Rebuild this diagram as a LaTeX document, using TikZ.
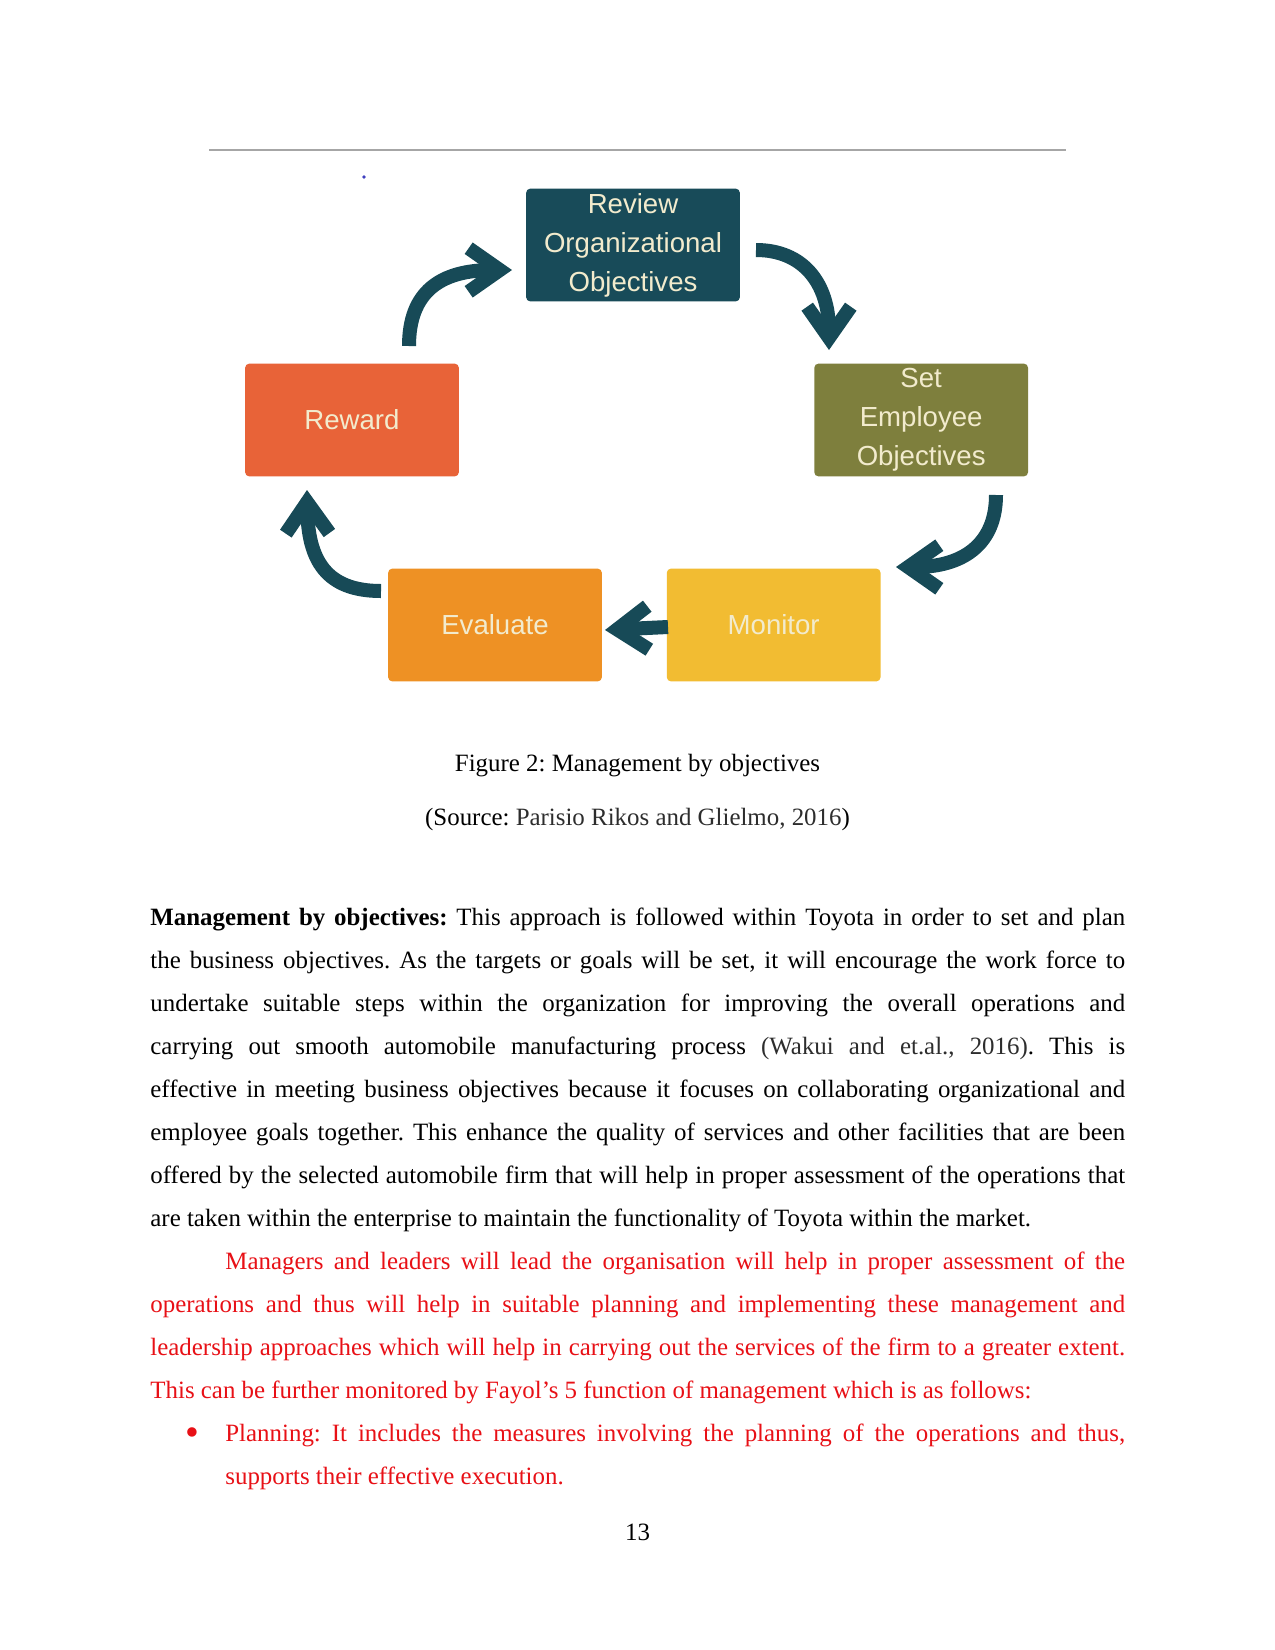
\documentclass[tikz,border=0pt]{standalone}
\usepackage{fontspec}
\setmainfont{Liberation Serif}[Ligatures=NoCommon]
\newfontfamily\boxfont{Liberation Sans}
\usetikzlibrary{arrows.meta, positioning}
\definecolor{revcol}{RGB}{24,75,89}
\definecolor{setcol}{RGB}{126,127,61}
\definecolor{rewcol}{RGB}{232,99,56}
\definecolor{evalcol}{RGB}{238,145,36}
\definecolor{moncol}{RGB}{242,188,50}
\definecolor{arrowcol}{RGB}{23,74,87}
\definecolor{boxtext}{RGB}{242,235,205}
\definecolor{citecol}{RGB}{45,45,45}
\definecolor{redtext}{RGB}{232,16,22}
\tikzstyle{every node}=[font=\fontsize{12}{20.75}\selectfont\frenchspacing]
\tikzstyle{box}=[rectangle, rounded corners=2pt, minimum width=3.62cm, minimum height=1.91cm, inner sep=0pt, text=boxtext, align=center, font=\boxfont\fontsize{13.3}{18.8}\selectfont]
\tikzstyle{flow}=[draw=arrowcol, line width=6.75pt]
\tikzstyle{para}=[anchor=base west, text width=6.5in, align=justify, inner sep=0pt]

\begin{document}
\begin{tikzpicture}[x=0.016933cm, y=-0.016933cm, >={Straight Barb[length=15pt,width=21pt]}]
    \useasboundingbox[fill=white] (0,0) rectangle (1275,1650);
    \draw[gray!70, line width=0.7pt] (209,150) -- (1066,150);
    \fill[blue!50!gray] (364,177) circle (1.8);
    \node[box, fill=revcol] (rev) at (633,245) {Review\\Organizational\\Objectives};
    \node[box, fill=rewcol] (rew) at (352,420) {Reward};
    \node[box, fill=setcol, right of=rew, node distance=9.64cm] (set) {Set\\Employee\\Objectives};
    \node[box, fill=evalcol] (eval) at (495,625) {Evaluate};
    \node[box, fill=moncol, right of=eval, node distance=4.72cm] (mon) {Monitor};
    \coordinate (a1s) at (409,346);
    \coordinate (a1e) at (512,270);
    \coordinate (a2s) at (756,250);
    \coordinate (a2e) at (829,350);
    \coordinate (a3s) at (996,495);
    \coordinate (a3e) at (896,567);
    \coordinate (a4s) at (668,627);
    \coordinate (a4e) at (605,630);
    \coordinate (a5s) at (381,591);
    \coordinate (a5e) at (307,490);
    \draw[flow,->] (a1s) .. controls (409,292) and (440,270) .. (a1e);
    \draw[flow,->] (a2s) .. controls (802,250) and (829,282) .. (a2e);
    \draw[flow,->] (a3s) .. controls (996,545) and (962,567) .. (a3e);
    \draw[flow,->] (a4s) -- (a4e);
    \draw[flow,->] (a5s) .. controls (326,591) and (308,560) .. (a5e);
    \node[anchor=base] (cap) at (637.5,771) {Figure 2: Management by objectives};
    \node[anchor=base] (src) at (637.5,825) {(Source: {\color{citecol}Parisio Rikos and Glielmo, 2016})};
    \node[para] (body) at (150,925) {\hyphenpenalty=10000\tolerance=9000
        \textbf{Management by objectives:} This approach is followed within Toyota in order to set and plan\linebreak
        the business objectives. As the targets or goals will be set, it will encourage the work force to\linebreak
        undertake suitable steps within the organization for improving the overall operations and\linebreak
        carrying out smooth automobile manufacturing process {\color{citecol}(Wakui and et.al., 2016)}. This is\linebreak
        effective in meeting business objectives because it focuses on collaborating organizational and\linebreak
        employee goals together. This enhance the quality of services and other facilities that are been\linebreak
        offered by the selected automobile firm that will help in proper assessment of the operations that\linebreak
        are taken within the enterprise to maintain the functionality of Toyota within the market.\par
        \color{redtext}\hspace*{0.5in}Managers and leaders will lead the organisation will help in proper assessment of the\linebreak
        operations and thus will help in suitable planning and implementing these management and\linebreak
        leadership approaches which will help in carrying out the services of the firm to a greater extent.\linebreak
        This can be further monitored by Fayol’s 5 function of management which is as follows:\par
        \hangindent=0.5in\hangafter=0 \leavevmode\llap{\raisebox{-2pt}{\fontsize{19}{19}\selectfont •}\hspace{12.5pt}}Planning: It includes the measures involving the planning of the operations and thus,\linebreak
        supports their effective execution.\par};
    \node[anchor=base] (pnum) at (637.5,1540) {13};
\end{tikzpicture}
\end{document}
